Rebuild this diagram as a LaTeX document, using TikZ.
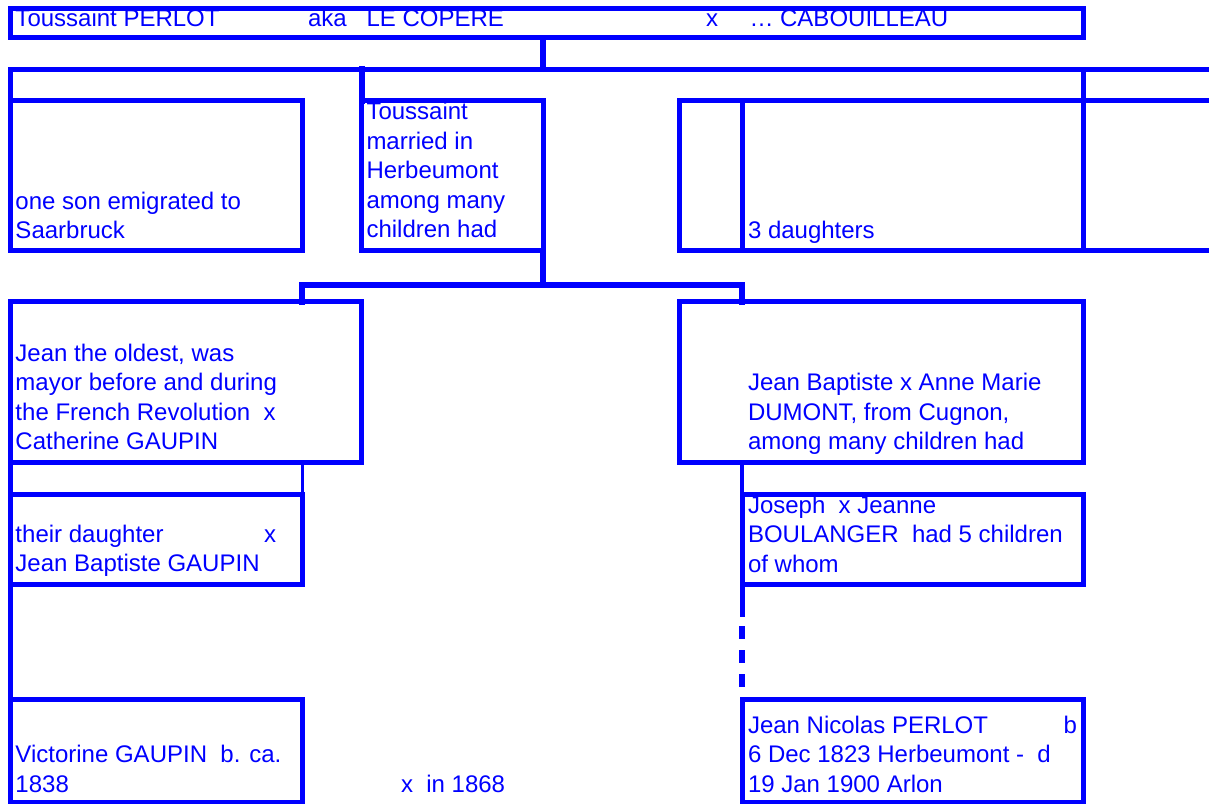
\documentclass[tikz,border=0pt]{standalone}
\usepackage{fontspec}
\setmainfont{Liberation Sans}
\newcommand{\tlines}[2]{\parbox[t]{#1}{\raggedright #2}}
\tikzset{
  cell/.style={draw=blue, line width=5pt, inner sep=0pt, outer sep=0pt, anchor=north west, rectangle},
  txt/.style={anchor=base west, inner sep=0pt, outer sep=0pt, text=blue, font=\fontsize{24pt}{29.6pt}\selectfont},
  link/.style={draw=blue, line width=5pt, line cap=rect},
  stemlink/.style={draw=blue, line width=6pt, line cap=rect},
  thinlink/.style={draw=blue, line width=3pt},
  midlink/.style={draw=blue, line width=4pt},
  buslink/.style={draw=blue, line width=6.5pt, line cap=rect},
  dashlink/.style={draw=blue, line width=6pt, dash pattern=on 13pt off 11pt},
}
\begin{document}
\begin{tikzpicture}[x=1pt,y=-1pt]
\useasboundingbox (0,0) rectangle (1209,803);
\clip (0,0) rectangle (1209,803);
% boxes
\node[cell, minimum width=1073pt, minimum height=29.5pt] (T) at (10,8) {};
\node[cell, minimum width=292pt, minimum height=150pt] (A) at (10,100.5) {};
\node[cell, minimum width=181.5pt, minimum height=150pt] (B) at (361.5,100.5) {};
\node[cell, minimum width=63pt, minimum height=150pt] (C1) at (679,100.5) {};
\node[cell, minimum width=341pt, minimum height=150pt] (C2) at (742,100.5) {};
\node[cell, minimum width=351pt, minimum height=160.5pt] (D) at (10,301.5) {};
\node[cell, minimum width=404pt, minimum height=160.5pt] (E) at (679,301.5) {};
\node[cell, minimum width=292pt, minimum height=90.5pt] (F) at (10,494) {};
\node[cell, minimum width=341pt, minimum height=90.5pt] (H) at (742,494) {};
\node[cell, minimum width=292pt, minimum height=102.5pt] (G) at (10,699.5) {};
\node[cell, minimum width=341pt, minimum height=102.5pt] (J) at (742,699.5) {};
% coordinates
\coordinate (busL) at (10,69);
\coordinate (busR) at (1209,69);
\coordinate (edgeTop) at (1209,100.5);
\coordinate (edgeBot) at (1209,250.5);
\coordinate (bus2L) at (302,285);
\coordinate (bus2R) at (742,285);
\coordinate (solidEnd) at (742,614);
\coordinate (dashStart) at (742,626);
\coordinate (dashEnd) at (742,687);
% connectors
\draw[link] (busL) -- (busR);
\draw[stemlink] (T.south -| B.east) -- (B.east |- busL);
\draw[link] (A.north west) -- (A.north west |- busL);
\draw[stemlink] (B.north west) -- (B.north west |- busL);
\draw[link] (C2.north east) -- (C2.north east |- busL);
\draw[link] (C2.north east) -- (edgeTop);
\draw[link] (C2.south east) -- (edgeBot);
\draw[stemlink] (B.south east) -- (B.south east |- bus2L);
\draw[buslink] (bus2L) -- (bus2R);
\draw[stemlink] (bus2L) -- (bus2L |- D.north);
\draw[stemlink] (bus2R) -- (bus2R |- E.north);
\draw[link] (D.south west) -- (F.north west);
\draw[thinlink] (F.north east |- D.south) -- (F.north east);
\draw[link] (F.south west) -- (G.north west);
\draw[midlink] (H.north west |- E.south) -- (H.north west);
\draw[link] (H.south west) -- (solidEnd);
\draw[dashlink] (dashStart) -- (dashEnd);
% texts
\node[txt] (tT1) at (15.5,26) {Toussaint PERLOT};
\node[txt] (tT2) at (308,26) {aka};
\node[txt] (tT3) at (366.5,26) {LE COPERE};
\node[txt] (tT4) at (706,26) {x};
\node[txt] (tT5) at (749.5,26) {… CABOUILLEAU};
\node[txt] (tA) at (15.5,209) {\tlines{285pt}{one son emigrated to\\Saarbruck}};
\node[txt] (tB) at (366.5,119.5) {\tlines{175pt}{Toussaint\\married in\\Herbeumont\\among many\\children had}};
\node[txt] (tC) at (748,238.5) {3 daughters};
\node[txt] (tD) at (15.5,361) {\tlines{340pt}{Jean the oldest, was\\mayor before and during\\the French Revolution\ \ x\\Catherine GAUPIN}};
\node[txt] (tE) at (748,390.5) {\tlines{330pt}{Jean Baptiste x Anne Marie\\DUMONT, from Cugnon,\\among many children had}};
\node[txt] (tF) at (15.5,542) {\tlines{260.5pt}{their daughter\hfill x\\Jean Baptiste GAUPIN}};
\node[txt] (tH) at (748,513) {\tlines{330pt}{Joseph\ \ x Jeanne\\BOULANGER\ \ had 5 children\\of whom}};
\node[txt] (tG) at (15.5,762.5) {\tlines{285pt}{Victorine GAUPIN\ \ b. ca.\\1838}};
\node[txt] (tX) at (401,792) {x\ \ in 1868};
\node[txt] (tJ) at (748,733) {\tlines{329pt}{Jean Nicolas PERLOT\hfill b\\6 Dec 1823 Herbeumont -\ \ d\\19 Jan 1900 Arlon}};
\end{tikzpicture}
\end{document}
